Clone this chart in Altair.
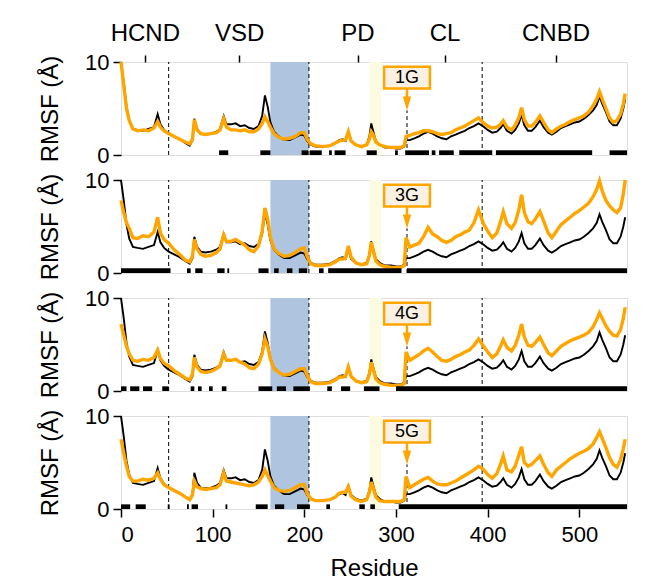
import altair as alt
import pandas as pd

# ---------------- data ----------------
residues = [0, 3, 6, 9, 13, 18, 24, 30, 36, 40,
            43, 47, 52, 58, 64, 70, 75, 78, 80, 83,
            87, 92, 98, 104, 108, 112, 115, 120, 125, 130,
            135, 140, 145, 150, 154, 157, 160, 163, 167, 172,
            178, 184, 190, 196, 200, 203, 207, 212, 220, 228,
            234, 238, 242, 245, 248, 251, 256, 262, 268, 271,
            273, 275, 278, 282, 288, 295, 300, 305, 309, 311,
            315, 320, 325, 330, 335, 340, 345, 350, 355, 360,
            365, 370, 375, 380, 385, 390, 395, 400, 405, 410,
            414, 417, 421, 426, 430, 434, 437, 440, 444, 448,
            452, 457, 461, 466, 470, 475, 480, 485, 490, 495,
            500, 505, 510, 515, 519, 522, 525, 529, 533, 537,
            541, 545, 548, 550]

black_rmsf = [10.0, 7.8, 5.2, 3.7, 2.8, 2.7, 2.6, 2.8, 3.0, 4.4,
              3.3, 2.7, 2.3, 2.0, 1.7, 1.3, 1.0, 1.6, 3.9, 2.8,
              2.3, 2.2, 2.3, 2.5, 2.8, 4.2, 3.3, 3.3, 3.4, 3.1,
              3.2, 2.9, 2.8, 3.1, 4.2, 6.4, 5.2, 3.5, 2.5, 2.0,
              1.6, 1.6, 1.9, 2.2, 2.1, 1.5, 1.1, 0.9, 0.9, 1.0,
              1.3, 1.6, 1.7, 1.5, 2.5, 1.5, 1.1, 0.9, 1.1, 2.0,
              3.4, 2.6, 1.5, 1.1, 0.8, 0.8, 0.7, 0.7, 0.9, 1.6,
              1.6, 1.8, 2.0, 2.3, 2.5, 2.3, 2.0, 1.8, 1.7, 2.0,
              2.2, 2.4, 2.6, 2.9, 3.1, 3.4, 3.1, 2.7, 2.4, 2.5,
              2.9, 3.3, 2.6, 2.3, 2.7, 3.4, 4.3, 3.2, 2.6, 2.6,
              3.0, 3.7, 3.0, 2.4, 2.2, 2.5, 2.9, 3.1, 3.3, 3.5,
              3.6, 3.9, 4.3, 4.8, 5.4, 6.3, 5.5, 4.6, 3.6, 3.2,
              3.2, 3.9, 5.0, 6.0]

orange_1g = [10.0, 7.5, 5.0, 3.7, 2.8, 2.6, 2.7, 2.6, 2.9, 3.6,
             3.0, 2.6, 2.3, 2.0, 1.7, 1.4, 1.2, 1.7, 3.8, 2.7,
             2.3, 2.2, 2.3, 2.4, 2.7, 3.9, 3.0, 2.7, 2.7, 2.6,
             2.7, 2.5, 2.5, 2.8, 3.4, 4.1, 3.6, 3.0, 2.3, 1.9,
             1.7, 1.8, 2.0, 2.4, 2.4, 1.7, 1.2, 1.0, 0.9, 1.0,
             1.3, 1.5, 1.6, 1.6, 2.5, 1.5, 1.1, 0.9, 1.1, 1.7,
             2.5, 2.2, 1.4, 1.1, 0.9, 0.8, 0.8, 0.8, 1.0, 2.0,
             2.1, 2.3, 2.4, 2.6, 2.6, 2.5, 2.3, 2.2, 2.3, 2.4,
             2.7, 2.9, 3.1, 3.4, 3.7, 4.0, 3.5, 3.1, 2.9, 3.0,
             3.3, 3.7, 3.0, 2.7, 3.2, 4.0, 5.1, 3.8, 3.1, 3.1,
             3.5, 4.2, 3.5, 2.7, 2.4, 2.8, 3.1, 3.3, 3.6, 3.8,
             4.0, 4.2, 4.6, 5.3, 6.0, 6.8, 6.0, 5.0, 4.0, 3.5,
             3.7, 4.4, 5.5, 6.6]

orange_3g = [7.8, 6.5, 5.4, 4.8, 3.8, 3.7, 4.0, 3.9, 4.4, 6.0,
             4.3, 3.6, 3.2, 2.5, 2.0, 1.4, 1.2, 1.8, 3.6, 2.6,
             2.0, 1.8, 1.9, 2.2, 2.6, 4.1, 3.4, 3.4, 3.6, 3.3,
             3.0, 2.5, 2.3, 2.9, 4.5, 7.0, 5.8, 3.8, 2.6, 2.1,
             1.8, 1.9, 2.2, 2.6, 2.7, 1.8, 1.0, 0.8, 0.8, 0.9,
             1.2, 1.5, 1.5, 1.6, 2.9, 1.7, 1.1, 0.9, 1.0, 1.9,
             3.3, 2.5, 1.3, 0.9, 0.7, 0.6, 0.6, 0.6, 0.8, 3.8,
             2.8, 3.0, 3.2, 3.9, 4.9, 4.2, 3.9, 3.5, 3.3, 3.5,
             3.9, 4.1, 4.4, 4.6, 5.4, 6.8, 5.4, 4.5, 3.8, 4.3,
             5.5, 6.6, 5.3, 4.8, 5.4, 6.8, 8.4, 6.5, 5.5, 5.3,
             5.8, 6.6, 5.6, 4.3, 3.8, 4.5, 5.2, 5.6, 6.0, 6.4,
             6.7, 7.1, 7.5, 8.2, 9.0, 9.9, 8.8, 7.8, 7.2, 6.8,
             6.5, 7.0, 8.5, 10.0]

orange_4g = [7.2, 6.0, 4.8, 4.0, 3.3, 3.2, 3.4, 3.3, 3.6, 4.4,
             3.5, 3.0, 2.7, 2.2, 1.8, 1.4, 1.2, 1.8, 3.6, 2.6,
             2.1, 2.0, 2.1, 2.4, 2.7, 4.0, 3.3, 3.3, 3.4, 3.1,
             2.9, 2.5, 2.4, 2.9, 4.0, 5.6, 4.8, 3.4, 2.4, 2.0,
             1.7, 1.8, 2.1, 2.4, 2.4, 1.7, 1.0, 0.8, 0.8, 0.9,
             1.2, 1.5, 1.5, 1.6, 2.6, 1.6, 1.1, 0.9, 1.0, 1.8,
             3.1, 2.4, 1.3, 0.9, 0.7, 0.6, 0.6, 0.6, 0.8, 4.2,
             3.3, 3.6, 3.9, 4.3, 4.6, 4.2, 3.7, 3.3, 3.2, 3.4,
             3.7, 3.9, 4.2, 4.4, 4.9, 5.6, 4.9, 4.2, 3.6, 4.0,
             4.8, 5.5, 4.7, 4.3, 4.9, 6.0, 7.2, 5.8, 4.9, 4.8,
             5.2, 5.8, 5.0, 4.1, 3.8, 4.3, 4.8, 5.1, 5.4, 5.6,
             5.8, 6.0, 6.3, 6.9, 7.7, 8.4, 7.8, 7.0, 6.4, 6.0,
             5.9, 6.6, 7.8, 9.0]

orange_5g = [7.5, 6.0, 4.6, 3.5, 3.0, 3.0, 3.2, 3.1, 3.3, 3.9,
             3.2, 2.6, 2.3, 2.0, 1.7, 1.3, 1.0, 1.5, 3.0, 2.4,
             2.2, 2.1, 2.2, 2.3, 2.6, 3.9, 3.0, 2.9, 2.8, 2.7,
             2.6, 2.5, 2.6, 2.9, 3.5, 4.2, 3.6, 3.0, 2.3, 2.0,
             1.9, 2.0, 2.3, 2.6, 2.6, 1.7, 1.1, 0.9, 0.9, 1.0,
             1.3, 1.7, 1.8, 1.8, 2.4, 1.4, 1.0, 0.8, 1.0, 1.8,
             2.9, 2.3, 1.3, 0.9, 0.8, 0.8, 0.8, 0.8, 1.0, 3.5,
             2.3, 2.6, 2.9, 3.2, 3.4, 3.0, 2.7, 2.6, 2.6, 2.8,
             3.0, 3.3, 3.6, 3.9, 4.2, 4.6, 4.3, 3.7, 3.3, 3.8,
             4.8, 5.7, 4.2, 4.0, 4.6, 5.8, 6.7, 5.0, 4.6, 4.8,
             5.2, 5.7, 4.8, 3.9, 3.5, 4.2, 4.6, 5.0, 5.4, 5.7,
             6.0, 6.2, 6.5, 7.0, 7.7, 8.3, 7.6, 6.6, 5.5, 4.8,
             4.5, 5.3, 6.5, 7.5]

panel_labels = ["1G", "3G", "4G", "5G"]

# residue ranges with significant differences (black bars along the bottom)
sig_1g = [(107, 117), (152, 163), (197, 204), (206, 219), (227, 230), (233, 245),
          (268, 279), (299, 302), (310, 336), (339, 343), (347, 363), (369, 405),
          (409, 514), (533, 552)]
sig_3g = [(0, 54), (72, 76), (81, 89), (105, 113), (116, 118), (150, 161),
          (167, 172), (181, 187), (194, 203), (216, 221), (226, 306), (312, 552)]
sig_4g = [(0, 6), (10, 20), (24, 34), (45, 52), (76, 80), (84, 88), (96, 100),
          (110, 115), (150, 165), (170, 180), (188, 206), (225, 230), (240, 250),
          (265, 282), (300, 552)]
sig_5g = [(0, 10), (16, 27), (51, 53), (72, 74), (77, 84), (114, 116), (147, 160),
          (168, 178), (192, 206), (224, 228), (260, 266), (272, 277), (303, 552)]

domain_ticks = [26, 129, 258, 353, 474]
domain_names = ["HCND", "VSD", "PD", "CL", "CNBD"]
dashed_at = [52, 205, 394]
blue_span = [163, 205]
yellow_span = [271, 284]
arrow_residue = 312
residue_ticks = [0, 100, 200, 300, 400, 500]

# ---------------- styling ----------------
ORANGE = "#FFA500"
BLUE = "#AFC4DF"
YELLOW = "#FCFBE1"
BOX_FILL = "#FBF1E3"
FONT = "Liberation Sans"
W, H = 506, 93

xs = alt.Scale(domain=[0, 552], nice=False, zero=False)
ys = alt.Scale(domain=[0, 10], nice=False, zero=True)

label_expr = " : ".join(
    [f"datum.value == {v} ? '{n}'" for v, n in zip(domain_ticks, domain_names)]
) + " : ''"


def make_panel(i, orange, sig, label, top=False, bottom=False):
    if top:
        xaxis = alt.Axis(orient="top", values=domain_ticks, labelExpr=label_expr,
                         tickSize=7, tickWidth=1.5, labelFontSize=24, labelPadding=10,
                         domain=False, grid=False, title=None, labelAngle=0,
                         labelFont=FONT, labelColor="black", tickColor="black")
    elif bottom:
        xaxis = alt.Axis(orient="bottom", values=residue_ticks, tickSize=8, tickWidth=1.5,
                         labelFontSize=22, labelPadding=7, title="Residue",
                         titleFontSize=24, titleFontWeight="normal", titlePadding=11,
                         domain=False, grid=False, labelAngle=0, labelFont=FONT,
                         titleFont=FONT, labelColor="black", titleColor="black",
                         tickColor="black")
    else:
        xaxis = None

    yaxis = alt.Axis(values=[0, 10], tickSize=8, tickWidth=1.5, labelFontSize=22,
                     labelPadding=4, title="RMSF (Å)", titleFontSize=24,
                     titleFontWeight="normal", titlePadding=22, domain=False,
                     grid=False, labelFont=FONT, titleFont=FONT, labelColor="black",
                     titleColor="black", tickColor="black")

    def X(f):
        return alt.X(f, type="quantitative", scale=xs, axis=xaxis)

    def Y(f):
        return alt.Y(f, type="quantitative", scale=ys, axis=yaxis)

    bg_df = pd.DataFrame({"a": [blue_span[0], yellow_span[0]],
                          "b": [blue_span[1], yellow_span[1]],
                          "c": [BLUE, YELLOW], "y0": [0, 0], "y1": [10, 10]})
    bg = alt.Chart(bg_df).mark_rect().encode(
        x=X("a"), x2="b", y=Y("y0"), y2="y1", color=alt.Color("c:N", scale=None))

    dash_df = pd.DataFrame({"x": dashed_at + [arrow_residue],
                            "y0": [0, 0, 0, 0], "y1": [10, 10, 10, 4.8]})
    dashes = alt.Chart(dash_df).mark_rule(color="black", strokeWidth=1,
                                          strokeDash=[4, 3]).encode(
        x=X("x"), y=Y("y0"), y2="y1")

    line_df = pd.DataFrame({"r": residues, "black": black_rmsf, "orange": orange})
    bl = alt.Chart(line_df).mark_line(color="black", strokeWidth=1.9).encode(
        x=X("r"), y=Y("black"))
    ol = alt.Chart(line_df).mark_line(color=ORANGE, strokeWidth=3.4).encode(
        x=X("r"), y=Y("orange"))

    sig_df = pd.DataFrame({"a": [s[0] for s in sig], "b": [s[1] for s in sig]})
    sig_df["y0"] = 0
    sig_df["y1"] = 0.5
    sigm = alt.Chart(sig_df).mark_rect(color="black").encode(
        x=X("a"), x2="b", y=Y("y0"), y2="y1")

    ann = pd.DataFrame({"x": [arrow_residue], "xa": [287], "xb": [337],
                        "ya": [7.15], "yb": [9.5], "yt": [8.3],
                        "s0": [7.15], "s1": [6.2], "h": [5.55], "t": [label]})
    shaft = alt.Chart(ann).mark_rule(color=ORANGE, strokeWidth=2.5).encode(
        x=X("x"), y=Y("s0"), y2="s1")
    head = alt.Chart(ann).mark_point(shape="M -0.6 -1 L 0.6 -1 L 0 1 Z", size=196,
                                     filled=True, color=ORANGE, opacity=1).encode(
        x=X("x"), y=Y("h"))
    box = alt.Chart(ann).mark_rect(fill=BOX_FILL, stroke=ORANGE, strokeWidth=2.5).encode(
        x=X("xa"), x2="xb", y=Y("ya"), y2="yb")
    txt = alt.Chart(ann).mark_text(fontSize=18, font=FONT, color="black",
                                   baseline="middle", align="center").encode(
        x=X("x"), y=Y("yt"), text="t:N")

    return alt.layer(bg, dashes, bl, ol, sigm, shaft, head, box, txt).properties(
        width=W, height=H)


panels = [
    make_panel(0, orange_1g, sig_1g, panel_labels[0], top=True),
    make_panel(1, orange_3g, sig_3g, panel_labels[1]),
    make_panel(2, orange_4g, sig_4g, panel_labels[2]),
    make_panel(3, orange_5g, sig_5g, panel_labels[3], bottom=True),
]

chart = alt.vconcat(*panels, spacing=1).properties(
    padding={"left": 30, "top": 12, "right": 5, "bottom": 0}
).configure_view(
    stroke="black", strokeWidth=1.5
).configure_axis(
    labelFont=FONT, titleFont=FONT, labelColor="black", titleColor="black",
    tickColor="black", titleFontWeight="normal"
).configure(background="white")

chart.save("out.html", embed_options={"renderer": "svg", "actions": False})
